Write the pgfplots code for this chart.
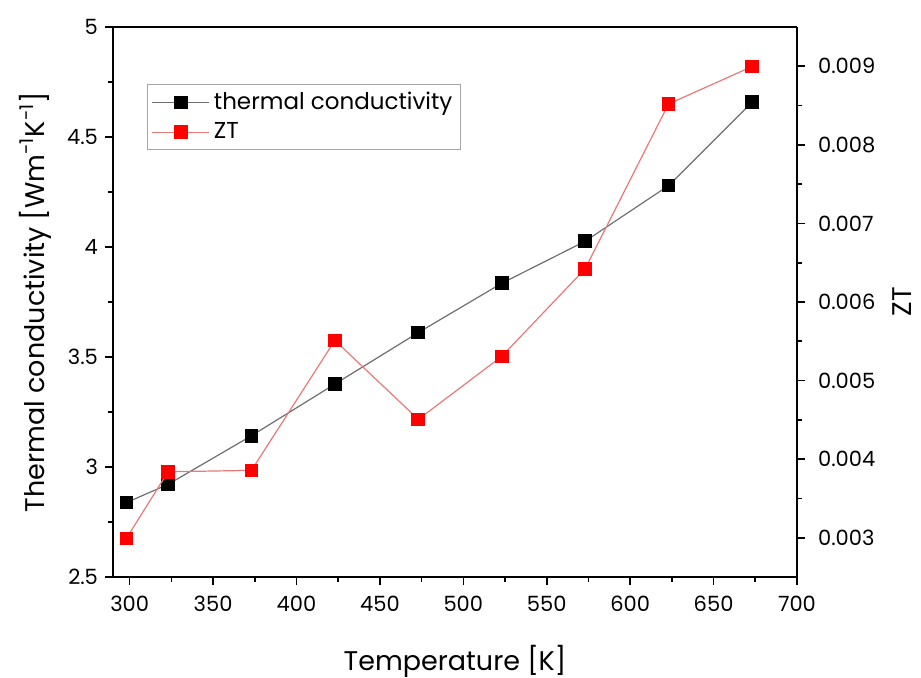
\documentclass[border=0pt]{standalone}
\usepackage{fontspec}
\setmainfont{Poppins}
\usepackage{pgfplots}
\pgfplotsset{compat=1.18}

\definecolor{tcline}{RGB}{110,110,110}
\definecolor{ztline}{RGB}{235,120,120}

\pgfplotsset{
  common/.style={
    scale only axis,
    width=342pt, height=275pt,
    xmin=290, xmax=700,
    tick align=outside,
    tick style={black, line width=0.8pt},
    major tick length=4pt, minor tick length=2.5pt,
    /pgf/number format/assume math mode=true,
    tick label style={font=\fontsize{10.5}{12}\selectfont},
    label style={font=\fontsize{13.5}{16}\selectfont},
    axis line style={line width=0.9pt},
  },
  longleg/.style={
    legend image code/.code={
      \draw[mark repeat=2, mark phase=2, ##1]
        plot coordinates {(0cm,0cm) (0.5cm,0cm) (1cm,0cm)};
    }
  }
}

\begin{document}
\begin{tikzpicture}
\begin{axis}[
  common,
  axis y line*=left,
  axis x line*=bottom,
  ymin=2.5, ymax=5,
  xtick={300,350,...,700},
  minor x tick num=1,
  ytick={2.5,3,...,5},
  minor y tick num=1,
  yticklabel style={/pgf/number format/fixed, /pgf/number format/precision=1},
  xticklabel style={yshift=-2pt},
  xlabel={Temperature [K]},
  ylabel={Thermal conductivity [Wm\textsuperscript{-1}K\textsuperscript{-1}]},
  xlabel style={yshift=-10pt},
  ylabel style={yshift=1pt},
]
\coordinate (sw) at (rel axis cs:0,0);
\coordinate (ne) at (rel axis cs:1,1);
\addplot[tcline, line width=0.6pt, mark=square*, mark size=3.1pt,
  mark options={black, fill=black}] coordinates {
  (298,2.838) (323,2.921) (373,3.142) (423,3.377) (473,3.611)
  (523,3.835) (573,4.026) (623,4.279) (673,4.658)};
\draw[line width=0.9pt] (rel axis cs:0,1) -- (rel axis cs:1,1);
\end{axis}
\begin{axis}[
  common,
  axis y line*=right,
  axis x line=none,
  ymin=0.0025, ymax=0.0095,
  ytick={0.003,0.004,...,0.009},
  minor y tick num=1,
  scaled y ticks=false,
  yticklabel style={xshift=3pt, /pgf/number format/fixed, /pgf/number format/precision=3, /pgf/number format/fixed zerofill},
  ylabel={ZT},
  ylabel style={yshift=-2pt},
  legend style={at={(0.05,0.897)}, anchor=north west, draw=gray!70, line width=0.6pt,
    font=\fontsize{11.5}{14}\selectfont, inner xsep=2pt, inner ysep=2pt,
    row sep=1pt},
  legend cell align=left,
]
\addlegendimage{longleg, tcline, line width=0.6pt, mark=square*, mark size=3.1pt, mark options={black, fill=black}}
\addlegendentry{thermal conductivity}
\addplot[longleg, ztline, line width=0.6pt, mark=square*, mark size=3.1pt,
  mark options={red, fill=red}] coordinates {
  (298,0.00299) (323,0.003839) (373,0.003857) (423,0.005511) (473,0.004506)
  (523,0.005307) (573,0.006422) (623,0.008520) (673,0.008996)};
\addlegendentry{ZT}
\end{axis}
\pgfresetboundingbox
\path ([shift={(-56.5pt,-50.5pt)}]sw) rectangle ([shift={(62pt,13.5pt)}]ne);
\end{tikzpicture}
\end{document}
